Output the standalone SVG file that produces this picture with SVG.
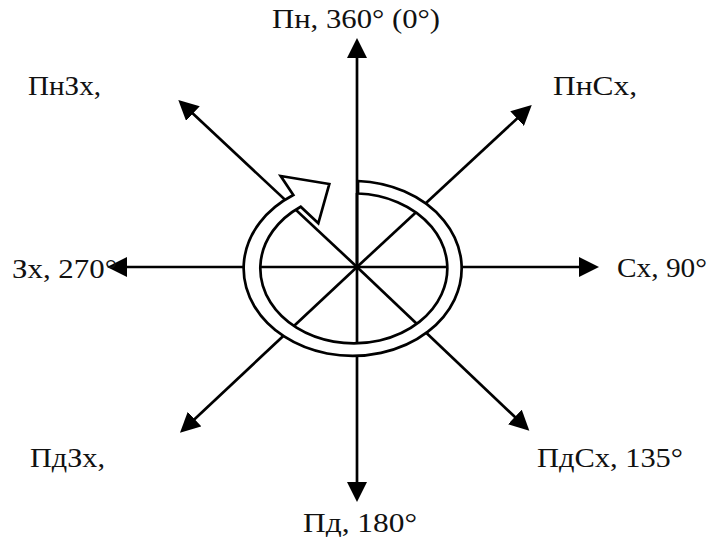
<svg xmlns="http://www.w3.org/2000/svg" width="712" height="537" viewBox="0 0 712 537">
<style>
.ax{stroke:#000;stroke-width:2.7;fill:none;marker-end:url(#ah)}
.lbl{font-family:"Liberation Serif","Times New Roman",serif;font-size:27px;fill:#111}
.ring{fill:#fff;stroke:#000;stroke-width:2.7;stroke-linejoin:miter}
</style>
<defs>
<marker id="ah" viewBox="0 0 20 20" refX="10" refY="10" markerWidth="20" markerHeight="20" markerUnits="userSpaceOnUse" orient="auto">
<path d="M0,0 L20,10 L0,20 Z" fill="#000"/>
</marker>
</defs>
<rect width="712" height="537" fill="#fff"/>
<g id="connectors">
<line class="ax" x1="357" y1="267" x2="357" y2="48"/>
<line class="ax" x1="357" y1="267" x2="357" y2="492"/>
<line class="ax" x1="357" y1="267" x2="117" y2="267"/>
<line class="ax" x1="357" y1="267" x2="589" y2="267"/>
<line class="ax" x1="357" y1="267" x2="185.6" y2="106.8"/>
<line class="ax" x1="357" y1="267" x2="524.4" y2="111.8"/>
<line class="ax" x1="357" y1="267" x2="187.3" y2="425.9"/>
<line class="ax" x1="357" y1="267" x2="522.1" y2="423.8"/>
</g>
<g id="rotation">
<path class="ring" d="M 358,181 A 109 87.5 0 1 1 293.3,195 L 280.7,176 L 329.3,184 L 318.3,223.3 L 300.7,206.7 A 93.5 75 0 1 0 358,193.5 Z"/>
<line x1="357" y1="193" x2="357" y2="267" stroke="#000" stroke-width="2.7"/>
</g>
<g id="n"><text class="lbl" x="272" y="28" textLength="168" lengthAdjust="spacingAndGlyphs">Пн, 360° (0°)</text></g>
<g id="nw"><text class="lbl" x="28" y="95" textLength="73" lengthAdjust="spacingAndGlyphs">ПнЗх,</text></g>
<g id="ne"><text class="lbl" x="553" y="95" textLength="84" lengthAdjust="spacingAndGlyphs">ПнСх,</text></g>
<g id="w"><text class="lbl" x="12" y="278" textLength="105" lengthAdjust="spacingAndGlyphs">Зх, 270°</text></g>
<g id="e"><text class="lbl" x="617" y="277" textLength="90" lengthAdjust="spacingAndGlyphs">Сх, 90°</text></g>
<g id="sw"><text class="lbl" x="30" y="467" textLength="75" lengthAdjust="spacingAndGlyphs">ПдЗх,</text></g>
<g id="se"><text class="lbl" x="537" y="467" textLength="146" lengthAdjust="spacingAndGlyphs">ПдСх, 135°</text></g>
<g id="s"><text class="lbl" x="303" y="532" textLength="114" lengthAdjust="spacingAndGlyphs">Пд, 180°</text></g>
</svg>
